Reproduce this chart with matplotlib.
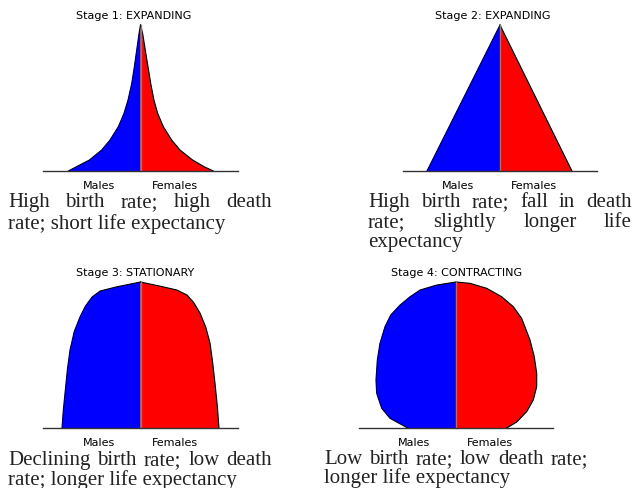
"""Four stages of the demographic transition drawn as population pyramids."""

import matplotlib

matplotlib.use("Agg")

import matplotlib.pyplot as plt  # noqa: E402

W, H = 633, 488
DPI = 100

BLUE = "#0000ff"
RED = "#ff0000"
TEXT = "#222222"

# pyramid outlines: age (% of max age) and half-width (% of axis half-width)
stage1_male_age = [0, 3.0, 7.5, 14.4, 21.2, 30.4, 39.5, 48.6, 60.0, 71.5, 82.9, 94.3, 100]
stage1_male = [74.0, 65.5, 52.5, 39.8, 31.3, 22.7, 16.9, 12.8, 9.0, 6.3, 3.9, 1.5, 0]
stage1_female_age = [0, 3.0, 7.5, 14.4, 21.2, 30.4, 39.5, 48.6, 60.0, 71.5, 82.9, 94.3, 100]
stage1_female = [74.7, 65.1, 53.5, 40.5, 32.0, 23.4, 17.6, 13.8, 10.5, 7.7, 4.9, 2.2, 0]

stage2_male_age = [0, 100]
stage2_male = [75.3, 0]
stage2_female_age = [0, 100]
stage2_female = [74.2, 0]

stage3_male_age = [0, 12.0, 24.0, 40.0, 53.4, 66.0, 76.0, 83.5, 89.7, 93.8, 96.6, 100]
stage3_male = [80.5, 79.2, 77.4, 75.0, 72.3, 68.0, 62.1, 56.5, 49.7, 41.5, 25.0, 0]
stage3_female_age = [0, 15.0, 30.8, 45.0, 58.2, 69.0, 78.8, 86.0, 91.1, 94.5, 97.0, 100]
stage3_female = [80.5, 78.8, 76.4, 74.0, 71.3, 67.0, 61.0, 54.5, 47.7, 37.4, 21.0, 0]

stage4_male_age = [0, 6.6, 13.5, 23.8, 32.9, 46.6, 58.0, 69.4, 77.4, 84.2, 89.9, 94.5, 97.9, 100]
stage4_male = [49.8, 68.0, 76.6, 81.8, 82.5, 81.1, 78.4, 73.2, 67.3, 57.7, 47.4, 37.1, 19.9, 0]
stage4_female_age = [0, 4.1, 11.2, 19.2, 28.3, 37.5, 48.8, 60.3, 75.1, 83.1, 89.9, 95.7, 99.1, 100]
stage4_female = [52.3, 62.6, 72.9, 79.7, 83.2, 83.2, 80.7, 76.3, 67.7, 59.1, 47.1, 31.6, 14.4, 0]

titles = ["Stage 1: EXPANDING", "Stage 2: EXPANDING",
          "Stage 3: STATIONARY", "Stage 4: CONTRACTING"]
sex_labels = ["Males", "Females"]
sex_ticks = [-43, 35]

captions = [
    ["High birth rate;  high death", "rate; short life expectancy"],
    ["High birth rate; fall in death", "rate; slightly longer life", "expectancy"],
    ["Declining birth rate; low death", "rate; longer life expectancy"],
    ["Low birth rate; low death rate;", "longer life expectancy"],
]

stages = [
    (stage1_male_age, stage1_male, stage1_female_age, stage1_female),
    (stage2_male_age, stage2_male, stage2_female_age, stage2_female),
    (stage3_male_age, stage3_male, stage3_female_age, stage3_female),
    (stage4_male_age, stage4_male, stage4_female_age, stage4_female),
]

# layout in pixels: axes left, right, baseline, top; title x; caption box
boxes = [(43, 238, 171, 25), (403, 597, 171, 25),
         (43, 238, 428, 282), (359, 553, 428, 282)]
title_x = [0.467, 0.464, 0.474, 0.505]
caption_boxes = [(8, 272, 207, 21.5), (368, 632, 207, 20),
                 (8, 272, 465, 19.5), (324, 588, 464.5, 18.5)]
justified = [[True, False], [True, True, False], [True, False], [True, False]]


def draw_pyramid(ax, m_age, m_w, f_age, f_w):
    mx = [0] + [-w for w in m_w]
    my = [0] + list(m_age)
    fx = [0] + list(f_w)
    fy = [0] + list(f_age)
    ax.fill(mx, my, color=BLUE, lw=0)
    ax.fill(fx, fy, color=RED, lw=0)
    ax.plot(mx[1:], my[1:], color="black", lw=0.8, clip_on=False)
    ax.plot(fx[1:], fy[1:], color="black", lw=0.8, clip_on=False)
    ax.plot([0, 0], [0, max(m_age)], color="#808080", lw=1.0, clip_on=False)


def put_line(fig, renderer, text, x0, x1, y, justify):
    kw = dict(fontsize=15, family="Liberation Serif", color=TEXT, va="baseline")
    if not justify:
        fig.text(x0 / W, 1 - y / H, text, **kw)
        return
    words = text.split()
    objs = [fig.text(0, 1 - y / H, w, **kw) for w in words]
    widths = [o.get_window_extent(renderer).width for o in objs]
    gap = (x1 - x0 - sum(widths)) / (len(words) - 1)
    x = x0
    for o, wd in zip(objs, widths):
        o.set_x(x / W)
        x += wd + gap


fig = plt.figure(figsize=(W / DPI, H / DPI), dpi=DPI)
renderer = fig.canvas.get_renderer()

for i, (box, data) in enumerate(zip(boxes, stages)):
    left, right, base, top = box
    ax = fig.add_axes([left / W, 1 - base / H, (right - left) / W, (base - top) / H])
    draw_pyramid(ax, *data)
    ax.set_xlim(-100, 100)
    ax.set_ylim(0, 100)
    for side in ("top", "left", "right"):
        ax.spines[side].set_visible(False)
    ax.spines["bottom"].set_color("#333333")
    ax.spines["bottom"].set_linewidth(1.0)
    ax.set_yticks([])
    ax.set_xticks(sex_ticks)
    ax.set_xticklabels(sex_labels, fontsize=8)
    ax.tick_params(axis="x", length=0, pad=7)
    ax.set_title(titles[i], fontsize=8, x=title_x[i], pad=4)

    x0, x1, y0, dy = caption_boxes[i]
    for j, line in enumerate(captions[i]):
        put_line(fig, renderer, line, x0, x1, y0 + j * dy, justified[i][j])

fig.savefig("out.png", dpi=DPI)
plt.close(fig)
